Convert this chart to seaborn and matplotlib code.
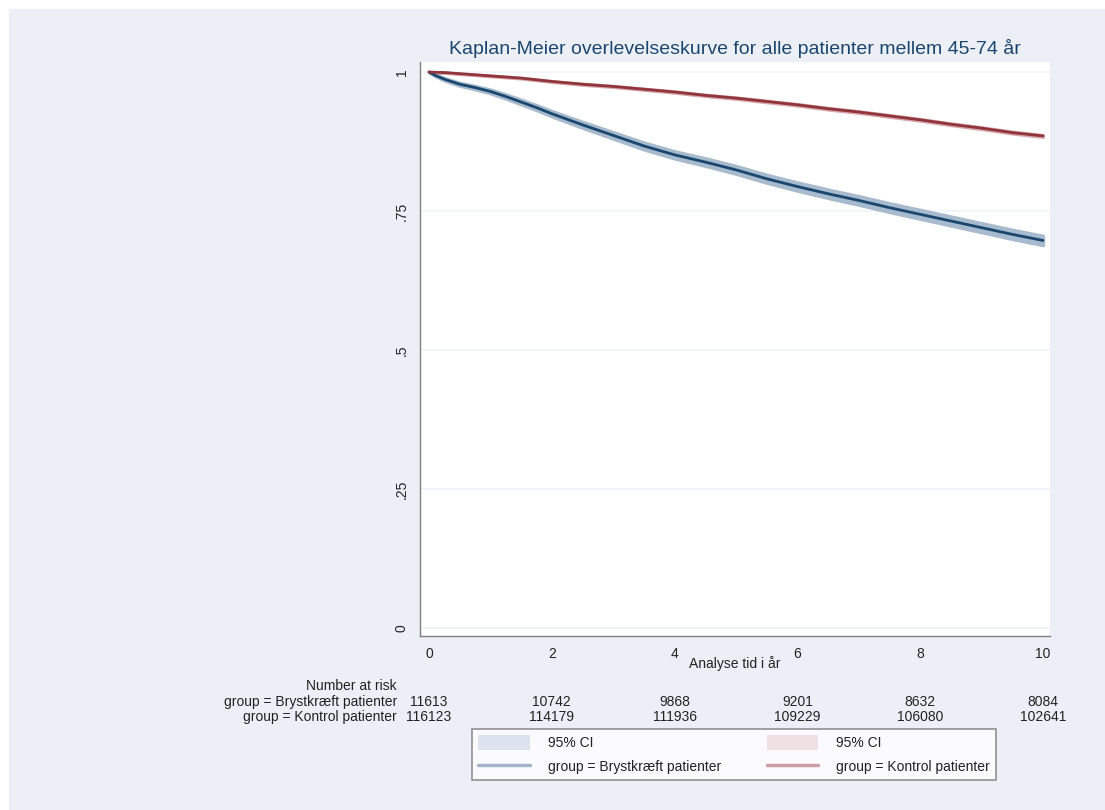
import numpy as np
import pandas as pd
import matplotlib
matplotlib.use("Agg")
import matplotlib.pyplot as plt
import seaborn as sns
from matplotlib import font_manager
from matplotlib.patches import Rectangle, Patch
from matplotlib.lines import Line2D

# ---- data -------------------------------------------------------------
time_years = [0, 0.1, 0.25, 0.5, 0.75, 1, 1.25, 1.5, 1.75, 2, 2.5, 3, 3.5,
              4, 4.5, 5, 5.5, 6, 6.5, 7, 7.5, 8, 8.5, 9, 9.5, 10]
surv_bryst = [1.0, 0.994, 0.987, 0.978, 0.972, 0.965, 0.956, 0.946, 0.936,
              0.925, 0.905, 0.886, 0.867, 0.851, 0.838, 0.824, 0.808, 0.794,
              0.781, 0.769, 0.756, 0.744, 0.732, 0.720, 0.708, 0.697]
surv_kontrol = [1.0, 0.9995, 0.999, 0.997, 0.995, 0.993, 0.991, 0.989, 0.986,
                0.983, 0.978, 0.974, 0.969, 0.964, 0.958, 0.953, 0.947, 0.941,
                0.934, 0.928, 0.921, 0.914, 0.906, 0.899, 0.891, 0.885]
ci_half_bryst = [0.0, 0.0015, 0.002, 0.0027, 0.003, 0.0034, 0.0038, 0.0042,
                 0.0045, 0.0048, 0.0054, 0.0058, 0.0062, 0.0065, 0.0068, 0.007,
                 0.0072, 0.0074, 0.0076, 0.0077, 0.0079, 0.008, 0.0081, 0.0082,
                 0.0083, 0.0084]
ci_half_kontrol = [0.0, 0.0003, 0.0004, 0.0005, 0.0006, 0.0007, 0.0008, 0.0008,
                   0.0009, 0.0009, 0.001, 0.0011, 0.0012, 0.0013, 0.0013, 0.0014,
                   0.0015, 0.0015, 0.0016, 0.0016, 0.0017, 0.0017, 0.0017, 0.0018,
                   0.0018, 0.0018]

risk_times = [0, 2, 4, 6, 8, 10]
risk_bryst = [11613, 10742, 9868, 9201, 8632, 8084]
risk_kontrol = [116123, 114179, 111936, 109229, 106080, 102641]

group_labels = ["group = Brystkræft patienter", "group = Kontrol patienter"]
xtick_values = [0, 2, 4, 6, 8, 10]
ytick_values = [0, 0.25, 0.5, 0.75, 1]
ytick_labels = ["0", ".25", ".5", ".75", "1"]
title_text = "Kaplan-Meier overlevelseskurve for alle patienter mellem 45-74 år"
xlabel_text = "Analyse tid i år"
risk_header = "Number at risk"
ci_label = "95% CI"

# ---- style ------------------------------------------------------------
sns.set_theme(style="white")
installed = {f.name for f in font_manager.fontManager.ttflist}
narrow = "Liberation Sans Narrow" if "Liberation Sans Narrow" in installed else "Liberation Sans"
plt.rcParams["font.family"] = [narrow, "DejaVu Sans"]

NAVY = "#1a476f"
MAROON = "#90353b"
BAND_B = "#a8bacd"
BAND_K = "#d9a7ab"
PANEL = "#ecf0f6"
GRID = "#f0f4f8"
AXIS = "#808080"
TXT = "#222222"
FS = 10

W, H = 1105, 810
fig = plt.figure(figsize=(W / 100, H / 100), dpi=100)
fig.patch.set_facecolor("white")
fig.patches.append(Rectangle((9 / W, -0.01), 1.02 - 9 / W, 1.01 - 9 / H, transform=fig.transFigure,
                             facecolor=PANEL, edgecolor="none", zorder=-10))


def fx(px):
    return px / W


def fy(py):
    return 1 - py / H


ax_l, ax_r, ax_t, ax_b = 420, 1050, 62, 636
ax = fig.add_axes([fx(ax_l), fy(ax_b), (ax_r - ax_l) / W, (ax_b - ax_t) / H])
ax.set_facecolor("white")

# ---- curves -----------------------------------------------------------
df = pd.DataFrame({
    "time": time_years * 2,
    "surv": surv_bryst + surv_kontrol,
    "group": [group_labels[0]] * len(time_years) + [group_labels[1]] * len(time_years),
})

t = np.array(time_years)
sb, sk = np.array(surv_bryst), np.array(surv_kontrol)
hb, hk = np.array(ci_half_bryst), np.array(ci_half_kontrol)
ax.fill_between(t, sb - hb, sb + hb, facecolor=BAND_B, edgecolor=BAND_B, linewidth=2.4, zorder=2)
ax.fill_between(t, sk - hk, sk + hk, facecolor=BAND_K, edgecolor=BAND_K, linewidth=2.2, zorder=2)

sns.lineplot(data=df, x="time", y="surv", hue="group",
             palette={group_labels[0]: NAVY, group_labels[1]: MAROON},
             linewidth=2.0, legend=False, ax=ax, zorder=3, estimator=None)

# ---- axes -------------------------------------------------------------
ax.set_xlim(-9 / 61.4, 10 + 7 / 61.4)
ax.set_ylim(-8 / 556, 1 + 10 / 556)
ax.set_xticks(xtick_values)
ax.set_xticklabels([str(v) for v in xtick_values])
ax.set_yticks(ytick_values)
ax.set_yticklabels(ytick_labels, rotation=90, va="center")
for v in ytick_values:
    ax.axhline(v, color=GRID, linewidth=1.2, zorder=1)
for side in ("top", "right"):
    ax.spines[side].set_visible(False)
for side in ("left", "bottom"):
    ax.spines[side].set_color(AXIS)
    ax.spines[side].set_linewidth(1.0)
ax.tick_params(axis="both", which="major", direction="out", length=4, width=1,
               color=AXIS, labelsize=FS, labelcolor=TXT, pad=4)
ax.tick_params(axis="y", pad=4)
ax.set_xlabel("")
ax.set_ylabel("")
ax.grid(False)

ax.set_title(title_text, fontsize=14, color=NAVY, pad=6, family=["Liberation Sans", "DejaVu Sans"])
fig.text(fx(735), fy(664), xlabel_text, ha="center", va="center", fontsize=FS, color=TXT)

# ---- number at risk table --------------------------------------------
xt = ax.get_xaxis_transform()
fig.text(fx(397), fy(686), risk_header, ha="right", va="center", fontsize=FS, color=TXT)
fig.text(fx(397), fy(702), group_labels[0], ha="right", va="center", fontsize=FS, color=TXT)
fig.text(fx(397), fy(717), group_labels[1], ha="right", va="center", fontsize=FS, color=TXT)
for x, nb, nk in zip(risk_times, risk_bryst, risk_kontrol):
    ax.text(x, (ax_b - 702) / (ax_b - ax_t), str(nb), transform=xt, ha="center", va="center",
            fontsize=FS, color=TXT, clip_on=False)
    ax.text(x, (ax_b - 717) / (ax_b - ax_t), str(nk), transform=xt, ha="center", va="center",
            fontsize=FS, color=TXT, clip_on=False)

# ---- legend -----------------------------------------------------------
handles = [
    Patch(facecolor="#dde3ee", edgecolor="none"),
    Line2D([], [], color="#a3b3c9", linewidth=2.5),
    Patch(facecolor="#efe0e4", edgecolor="none"),
    Line2D([], [], color="#cc9ea2", linewidth=2.5),
]
labels = [ci_label, group_labels[0], ci_label, group_labels[1]]
leg = fig.legend(handles, labels, ncol=2, loc="upper left",
                 bbox_to_anchor=(fx(472), fy(729)), bbox_transform=fig.transFigure,
                 fontsize=FS, frameon=True, fancybox=False, borderaxespad=0,
                 handlelength=3.7, handleheight=1.3, handletextpad=1.3,
                 columnspacing=3.3, labelspacing=0.6, borderpad=0.45)
leg.get_frame().set_edgecolor("#777777")
leg.get_frame().set_linewidth(1.2)
leg.get_frame().set_facecolor("white")
for txt in leg.get_texts():
    txt.set_color(TXT)

fig.savefig("out.png", dpi=100, facecolor=fig.get_facecolor())
